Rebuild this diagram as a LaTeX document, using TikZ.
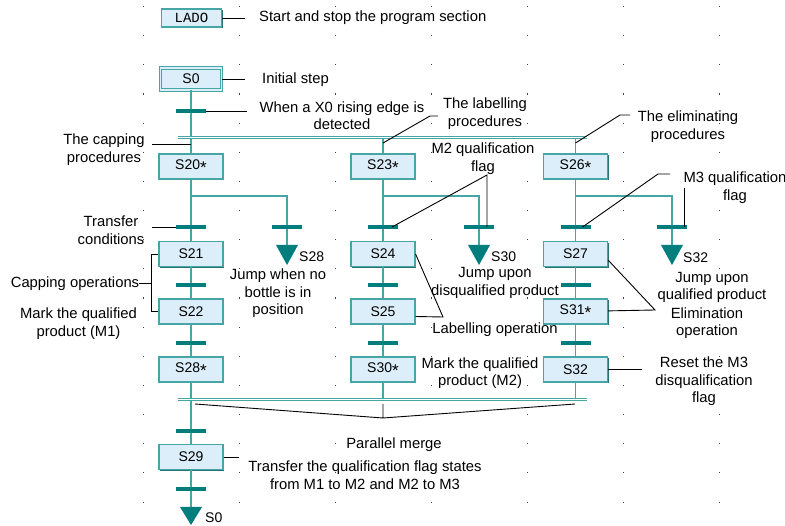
\documentclass[tikz,border=0pt]{standalone}
\usepackage{fontspec}
\setmainfont{Liberation Sans}
\newfontfamily\ladofont{Liberation Mono}
\usetikzlibrary{shadows}
\definecolor{flow}{RGB}{70,165,165}
\definecolor{barcol}{RGB}{0,125,125}
\definecolor{stepfill}{RGB}{220,238,250}
\definecolor{stepshade}{RGB}{40,115,115}
\newcommand\lowast{{\fontsize{17}{17}\selectfont\raisebox{-3.5pt}{*}}}
\tikzset{
  stepbox/.style={draw=flow, line width=1.1pt, fill=stepfill, minimum width=64pt,
    minimum height=25pt, inner sep=0pt, font=\fontsize{14}{14}\selectfont,
    drop shadow={shadow xshift=1.3pt, shadow yshift=-1.3pt, opacity=1, fill=stepshade}},
  initbox/.style={stepbox, line width=0.9pt, double=stepfill, double distance=1.8pt,
    minimum width=61pt, minimum height=22pt},
  ladobox/.style={stepbox, minimum width=60pt, minimum height=18pt, font=\ladofont\fontsize{14}{14}\selectfont},
  trans/.style={fill=barcol, minimum width=30pt, minimum height=4pt, inner sep=0pt, outer sep=0pt},
  flowline/.style={draw=flow, line width=1.3pt},
  dblline/.style={draw=flow, line width=1pt, double=white, double distance=1.6pt},
  jumplabel/.style={font=\fontsize{14}{14}\selectfont, inner sep=0pt, anchor=west},
  note/.style={font=\fontsize{14.8}{17.5}\selectfont, align=center, inner sep=0pt, yshift=-1.5pt},
  noteline/.style={draw=black, line width=0.9pt}
}
\begin{document}
\begin{tikzpicture}[x=1pt,y=-1pt]
  \fill[white] (0,0) rectangle (785,526);
  \useasboundingbox (0,0) rectangle (785,526);
  % grid dots
  \foreach \i in {0,...,6}
    \foreach \j in {0,...,17}
      \fill[black!75] (143+96*\i,6+29.15*\j) rectangle ++(1.1,1.1);

  % steps
  \node[ladobox] (lado) at (191.5,18) {LADO};
  \node[initbox] (s0) at (191,79) {S0};
  \node[stepbox] (s20) at (191,166.5) {S20\lowast};
  \node[stepbox] (s21) at (191,254) {S21};
  \node[stepbox] (s22) at (191,311.5) {S22};
  \node[stepbox] (s28) at (191,369.5) {S28\lowast};
  \node[stepbox] (s29) at (191,457) {S29};
  \node[stepbox] (s23) at (383,166.5) {S23\lowast};
  \node[stepbox] (s24) at (383,254) {S24};
  \node[stepbox] (s25) at (383,311.5) {S25};
  \node[stepbox] (s30) at (383,369.5) {S30\lowast};
  \node[stepbox] (s26) at (575.5,166.5) {S26\lowast};
  \node[stepbox] (s27) at (575.5,254) {S27};
  \node[stepbox] (s31) at (575.5,311.5) {S31\lowast};
  \node[stepbox] (s32) at (575.5,369.5) {S32};

  \coordinate (sL) at (178,137.5);
  \coordinate (sR) at (587,137.5);
  \coordinate (mL) at (178,399.5);
  \coordinate (mR) at (587,399.5);
  \coordinate (brA) at (191,196);
  \coordinate (brB) at (383,196);
  \coordinate (brC) at (575.5,196);
  \coordinate (j28) at (287,245);
  \coordinate (j30) at (479,245);
  \coordinate (j32) at (672,245);
  \coordinate (jA) at (191,507);

  % flow lines
  \draw[flowline] (s0) -- (s20) (s20) -- (s21) (s21) -- (s22) (s22) -- (s28)
    (s28) -- (s29) (s29) -- (jA);
  \draw[flowline] (s23) -- (s23 |- sL) (s23) -- (s24) (s24) -- (s25) (s25) -- (s30)
    (s30) -- (s30 |- mL);
  \draw[flowline] (s26) -- (s26 |- sL) (s26) -- (s27) (s27) -- (s31) (s31) -- (s32)
    (s32) -- (s32 |- mL);
  \draw[flowline] (brA) -| (j28);
  \draw[flowline] (brB) -| (j30);
  \draw[flowline] (brC) -| (j32);

  % parallel split and merge
  \draw[dblline] (sL) -- (sR);
  \draw[dblline] (mL) -- (mR);

  % transitions
  \node[trans] (b0) at (191,111) {};
  \node[trans] (bA1) at (191,227) {};
  \node[trans] (bA2) at (191,285) {};
  \node[trans] (bA3) at (191,343) {};
  \node[trans] (bA4) at (191,431) {};
  \node[trans] (bA5) at (191,489) {};
  \node[trans] (bJ28) at (287,227) {};
  \node[trans] (bB1) at (383,227) {};
  \node[trans] (bB2) at (479,227) {};
  \node[trans] (bB3) at (383,285) {};
  \node[trans] (bB4) at (383,343) {};
  \node[trans] (bC1) at (575.5,227) {};
  \node[trans] (bC2) at (672,227) {};
  \node[trans] (bC3) at (575.5,285) {};
  \node[trans] (bC4) at (575.5,343) {};

  % jumps
  \fill[barcol] (j28) +(-11,0) -- +(11,0) -- +(0,20) -- cycle;
  \fill[barcol] (j30) +(-11,0) -- +(11,0) -- +(0,20) -- cycle;
  \fill[barcol] (j32) +(-11,0) -- +(11,0) -- +(0,20) -- cycle;
  \fill[barcol] (jA) +(-11,0) -- +(11,0) -- +(0,18) -- cycle;
  \node[jumplabel] (l28) at (299,257) {S28};
  \node[jumplabel] (l30) at (491,257) {S30};
  \node[jumplabel] (l32) at (683,258) {S32};
  \node[jumplabel] (l0) at (205,518) {S0};

  % notes
  \node[note, anchor=west] (tStart) at (259,16) {Start and stop the program section};
  \draw[noteline, shorten >=14pt] (lado) -- (lado -| tStart.west);
  \node[note, anchor=west] (tInit) at (262,78) {Initial step};
  \draw[noteline, shorten >=17pt] (s0) -- (s0 -| tInit.west);
  \node[note] (tRise) at (342,114) {When a X0 rising edge is\\detected};
  \draw[noteline, shorten >=13pt] (b0) -- (b0 -| tRise.west);

  \node[note] (tCap) at (104,148) {The capping\\procedures};
  \coordinate (cCap) at (191,144);
  \draw[noteline, shorten >=7pt] (cCap) -- (cCap -| tCap.east);
  \node[note] (tTrCond) at (111,228.5) {Transfer\\conditions};
  \draw[noteline, shorten >=7pt] (bA1) -- (bA1 -| tTrCond.east);
  \node[note] (tCapOp) at (75,282) {Capping operations};
  \draw[noteline] (s21.west) -- ++(-7,0) |- (s22.west);
  \draw[noteline, shorten >=7pt] (tCapOp.east) -- (tCapOp.east -| s21.west);
  \node[note] (tMarkM1) at (78.5,322) {Mark the qualified\\product (M1)};
  \node[note] (tJ28) at (278,292) {Jump when no\\bottle is in\\position};

  \node[note] (tLab) at (485,112) {The labelling\\procedures};
  \coordinate (cLab0) at (383,143);
  \coordinate (cLab1) at (430,116);
  \draw[noteline] (cLab0) -- (cLab1) -- ++(8,0);
  \node[note] (tElim) at (688,125) {The eliminating\\procedures};
  \coordinate (cElim0) at (575.5,143);
  \coordinate (cElim1) at (620,115);
  \draw[noteline] (cElim0) -- (cElim1) -- ++(10,0);

  \node[note] (tM2) at (483,157) {M2 qualification\\flag};
  \coordinate (cM2) at (487,175);
  \draw[noteline] ([xshift=-6pt]bB1.east) -- (cM2) -- (cM2 |- bB2);
  \node[note] (tM3) at (735,186) {M3 qualification\\flag};
  \coordinate (cM3a) at (658,174);
  \coordinate (cM3b) at (684,188);
  \draw[noteline] ([xshift=-8pt]bC1.east) -- (cM3a) -- ++(12,0);
  \draw[noteline] (cM3b) -- (cM3b |- bC2);

  \node[note] (tJ30) at (495,281.5) {Jump upon\\disqualified product};
  \node[note] (tJ32) at (712,286) {Jump upon\\qualified product};
  \node[note] (tElimOp) at (707,321.5) {Elimination\\operation};
  \coordinate (cElimOp) at (655,310);
  \draw[noteline] ([yshift=-6pt]s27.east) -- (cElimOp) -- (s31);

  \node[note] (tLabOp) at (495,328) {Labelling operation};
  \coordinate (cLabOp) at (443,317);
  \draw[noteline] (s24.east) -- (cLabOp) -- ([yshift=-5pt]s25.east);
  \node[note] (tMarkM2) at (480,371.5) {Mark the qualified\\product (M2)};
  \node[note] (tReset) at (704,380) {Reset the M3\\disqualification\\flag};
  \draw[noteline, shorten >=13pt] (s32) -- (s32 -| tReset.west);

  \node[note] (tMerge) at (394,443) {Parallel merge};
  \coordinate (cMgL) at (195,404);
  \coordinate (cMg) at (383,418);
  \coordinate (cMgR) at (575,404);
  \draw[noteline] (cMgL) -- (cMg) -- (cMgR) (cMg) -- ++(0,-14);
  \node[note] (tTransfer) at (365,473.5) {Transfer the qualification flag states\\from M1 to M2 and M2 to M3};
  \draw[noteline, shorten >=9pt] (s29) -- (s29 -| tTransfer.west);
\end{tikzpicture}
\end{document}
